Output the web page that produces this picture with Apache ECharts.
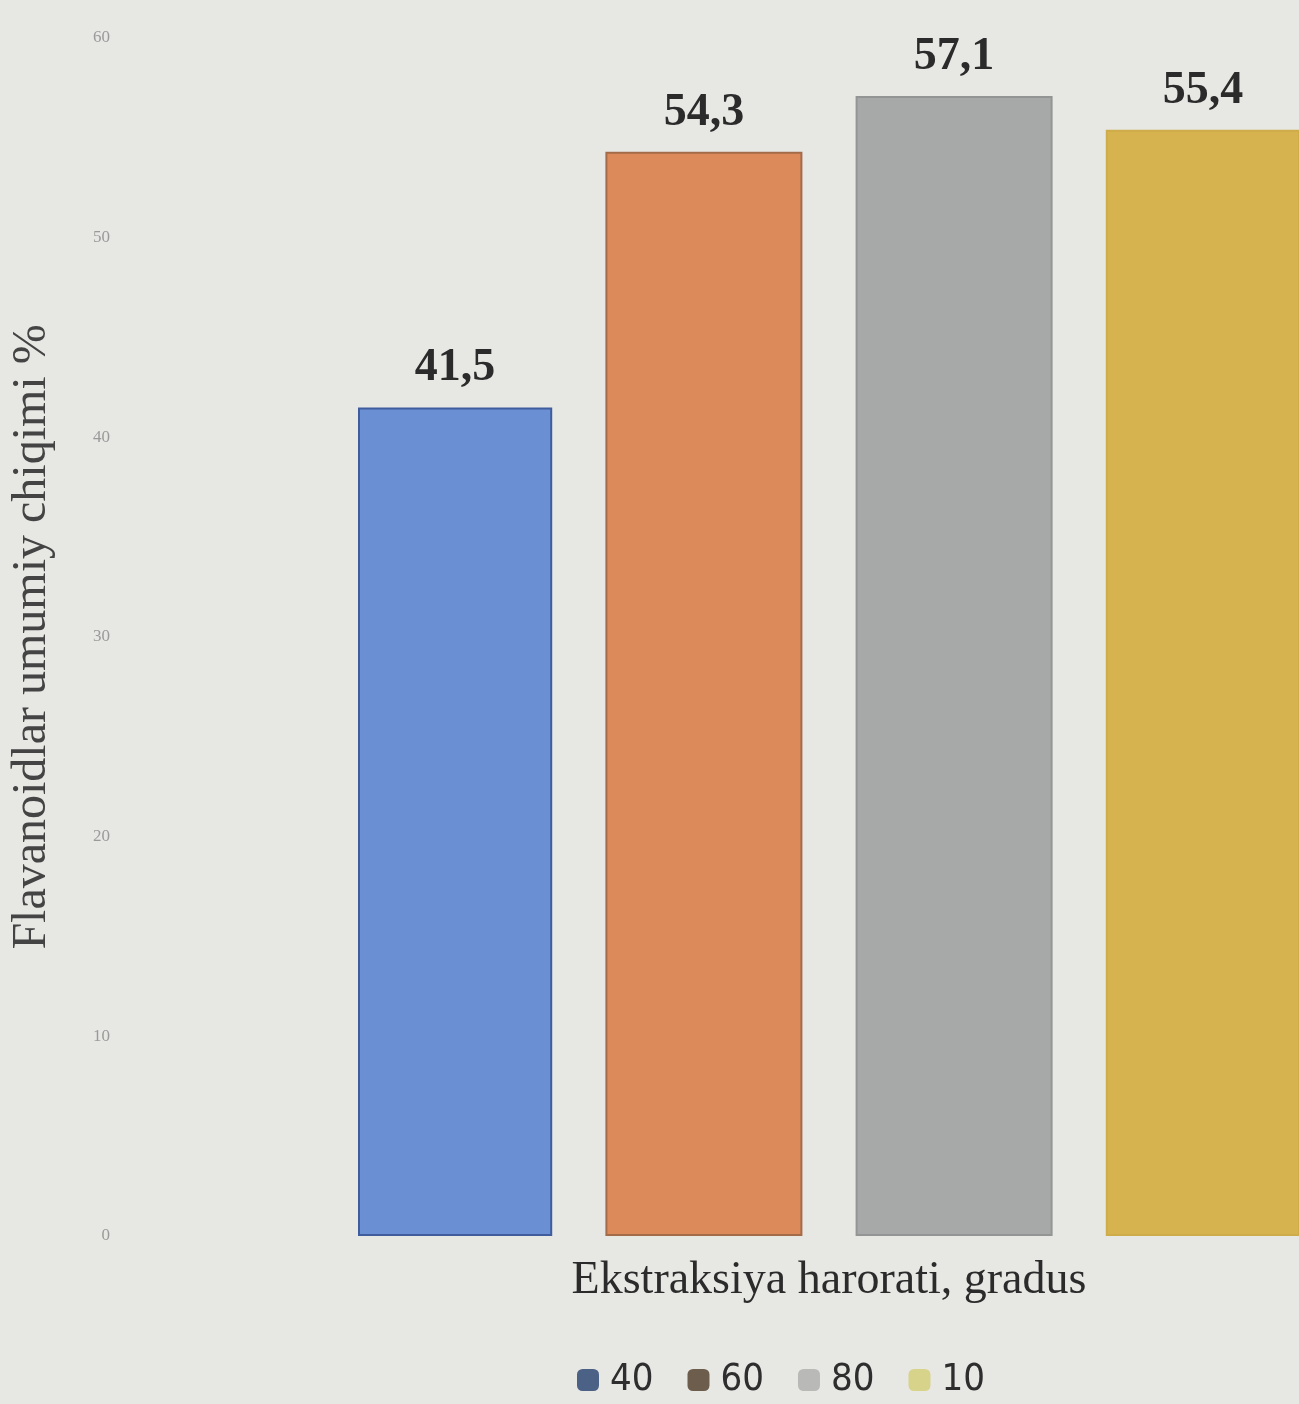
<!DOCTYPE html>
<html>
<head>
<meta charset="utf-8">
<script src="https://cdn.jsdelivr.net/npm/echarts@6/dist/echarts.min.js"></script>
<style>
  html, body { margin: 0; padding: 0; background: #e7e8e4; overflow: hidden; }
  #chart { width: 1299px; height: 1404px; }
</style>
</head>
<body>
<div id="chart"></div>
<script>
// Extraction temperatures (legend entries) and total flavonoid yield, %
const temperatures = ['40', '60', '80', '10'];
const yields = [41.5, 54.3, 57.1, 55.4];
const groupLabels = [''];

const barColors = ['#6b8fd3', '#dd8a5b', '#a7a9a8', '#d6b34f'];
const barBorders = ['#3f5c9c', '#a46b48', '#939594', '#cfac4a'];
const legendColors = ['#4c6186', '#6c5d4c', '#b9bab8', '#d8d38a'];

const chart = echarts.init(document.getElementById('chart'), null, { renderer: 'canvas' });

const series = temperatures.map((name, i) => ({
  name: name,
  type: 'bar',
  data: [yields[i]],
  barWidth: 197,
  barGap: '27%',
  itemStyle: { color: barColors[i], borderColor: barBorders[i], borderWidth: 2 },
  label: {
    show: true,
    position: 'top',
    distance: 16,
    formatter: p => String(p.value).replace('.', ','),
    fontFamily: '"Liberation Serif", serif',
    fontWeight: 'bold',
    fontSize: 46,
    color: '#2b2b2b'
  }
}));

chart.setOption({
  backgroundColor: '#e7e8e4',
  animation: false,
  grid: { left: 345, width: 1001, top: 38, bottom: 168 },
  legend: {
    left: 572,
    top: 1356,
    itemWidth: 22,
    itemHeight: 22,
    itemGap: 34,
    icon: 'roundRect',
    textStyle: {
      fontFamily: '"Liberation Sans Narrow", "DejaVu Sans Condensed", sans-serif',
      fontSize: 38,
      color: '#2e2e2e',
      padding: [0, 0, 0, 6]
    },
    data: temperatures.map((name, i) => ({
      name: name,
      itemStyle: { color: legendColors[i], borderWidth: 0 }
    }))
  },
  xAxis: {
    type: 'category',
    data: groupLabels,
    name: 'Ekstraksiya harorati, gradus',
    nameLocation: 'middle',
    nameGap: 22,
    nameTextStyle: { fontFamily: '"Liberation Serif", serif', fontSize: 46, color: '#2b2b2b' },
    axisLine: { show: false },
    axisTick: { show: false },
    axisLabel: { show: false }
  },
  yAxis: {
    type: 'value',
    min: 0,
    max: 60,
    interval: 10,
    name: 'Flavanoidlar umumiy chiqimi %',
    nameLocation: 'middle',
    nameGap: 303,
    nameTextStyle: { fontFamily: '"Liberation Serif", serif', fontSize: 48, color: '#444' },
    axisLine: { show: false },
    axisTick: { show: false },
    splitLine: { show: false },
    axisLabel: {
      margin: 249,
      fontFamily: '"Liberation Serif", serif',
      fontSize: 17,
      color: '#9a9a9a'
    }
  },
  series: series
});
</script>
</body>
</html>
